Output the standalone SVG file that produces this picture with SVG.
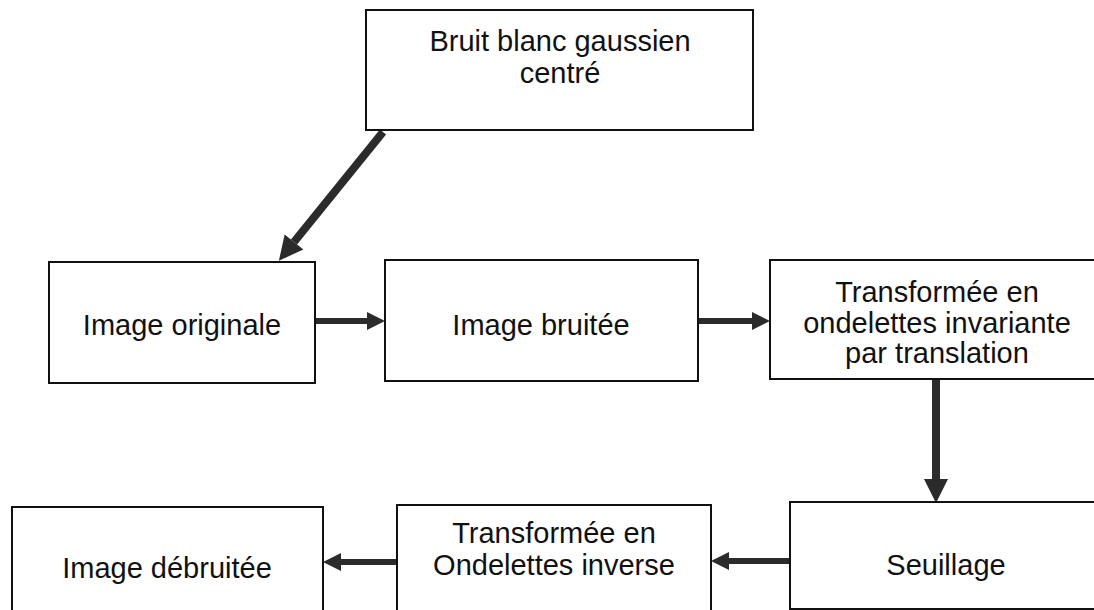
<svg xmlns="http://www.w3.org/2000/svg" width="1094" height="610" viewBox="0 0 1094 610">
<style>
.box{fill:#fff;stroke:#111;stroke-width:2}
.t{font-family:"Liberation Sans",Arial,sans-serif;font-size:29px;fill:#111;text-anchor:middle}
.c{stroke:#2b2b2b;fill:none}
.thin{stroke-width:6}
.thick{stroke-width:8}
</style>
<defs>
<marker id="hs" markerUnits="userSpaceOnUse" markerWidth="20" markerHeight="20" refX="0" refY="10" viewBox="0 0 20 20" orient="auto" overflow="visible">
<path d="M0,1 L18,10 L0,19 z" fill="#2b2b2b"/>
</marker>
<marker id="hb" markerUnits="userSpaceOnUse" markerWidth="26" markerHeight="26" refX="0" refY="13" viewBox="0 0 26 26" orient="auto" overflow="visible">
<path d="M0,1 L24,13 L0,25 z" fill="#2b2b2b"/>
</marker>
</defs>
<rect width="1094" height="610" fill="#fff"/>
<g id="connectors">
<line class="c thick" x1="383" y1="132" x2="294" y2="242" marker-end="url(#hb)"/>
<line class="c thin" x1="315" y1="321" x2="367" y2="321" marker-end="url(#hs)"/>
<line class="c thin" x1="698" y1="321" x2="752" y2="321" marker-end="url(#hs)"/>
<line class="c thick" x1="936" y1="380" x2="936" y2="479" marker-end="url(#hb)"/>
<line class="c thin" x1="790" y1="561" x2="729" y2="561" marker-end="url(#hs)"/>
<line class="c thin" x1="397" y1="562" x2="341" y2="562" marker-end="url(#hs)"/>
</g>
<g id="bruit">
<rect class="box" x="366" y="10" width="387" height="120"/>
<text class="t" x="560" y="51">Bruit blanc gaussien</text>
<text class="t" x="560" y="83">centré</text>
</g>
<g id="originale">
<rect class="box" x="49" y="262" width="266" height="121"/>
<text class="t" x="182" y="335">Image originale</text>
</g>
<g id="bruitee">
<rect class="box" x="385" y="260" width="313" height="121"/>
<text class="t" x="541" y="335">Image bruitée</text>
</g>
<g id="transformee">
<rect class="box" x="770" y="260" width="332" height="119"/>
<text class="t" x="937" y="302">Transformée en</text>
<text class="t" x="937" y="333">ondelettes invariante</text>
<text class="t" x="937" y="363">par translation</text>
</g>
<g id="seuillage">
<rect class="box" x="790" y="502" width="312" height="107"/>
<text class="t" x="946" y="575">Seuillage</text>
</g>
<g id="inverse">
<rect class="box" x="397" y="505" width="314" height="110"/>
<text class="t" x="554" y="543">Transformée en</text>
<text class="t" x="554" y="575">Ondelettes inverse</text>
</g>
<g id="debruitee">
<rect class="box" x="12" y="507" width="311" height="110"/>
<text class="t" x="167" y="578">Image débruitée</text>
</g>
</svg>
